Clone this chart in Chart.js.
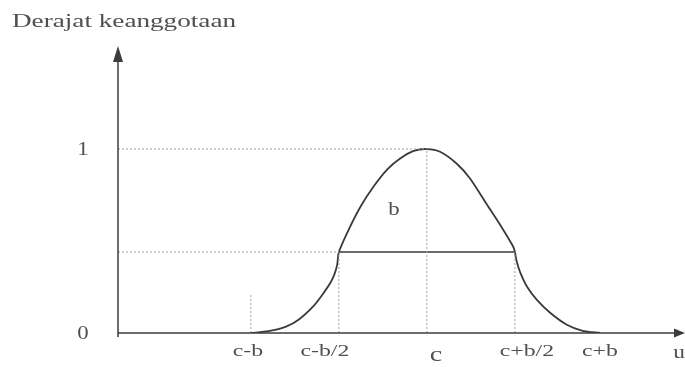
<!DOCTYPE html>
<html>
<head>
<meta charset="utf-8">
<script src="https://cdn.jsdelivr.net/npm/chart.js@4/dist/chart.umd.min.js"></script>
<style>
  html, body { margin: 0; padding: 0; background: #fff; }
  canvas { display: block; }
</style>
</head>
<body>
<canvas id="c" width="685" height="367"></canvas>
<script>
// Pi-shaped membership curve: centre c = 0, half-width b/2 = 1
const curveX = [-2.0, -1.8, -1.6, -1.45, -1.3, -1.2, -1.1, -1.05, -1.02, -1.0, -0.88, -0.75, -0.6, -0.45, -0.3, -0.15, 0, 0.15, 0.34, 0.49, 0.68, 0.83, 0.98, 1.0, 1.02, 1.06, 1.14, 1.25, 1.4, 1.59, 1.77, 1.97];
const curveY = [0, 0.01, 0.035, 0.075, 0.14, 0.2, 0.27, 0.32, 0.37, 0.44, 0.57, 0.69, 0.8, 0.89, 0.95, 0.99, 1, 0.985, 0.92, 0.84, 0.7, 0.59, 0.47, 0.44, 0.39, 0.33, 0.25, 0.18, 0.11, 0.045, 0.012, 0];

// Axis labels
const tickPositions = [-2, -1, 0, 1, 2];
const tickLabels = ['c-b', 'c-b/2', 'c', 'c+b/2', 'c+b'];
const yTickValues = [0, 1];
const yTickLabels = ['0', '1'];
const yAxisTitle = 'Derajat keanggotaan';
const xAxisTitle = 'u';
const widthLabel = 'b';

// Reference levels
const peakValue = 1;
const crossoverValue = 0.44;
const supportMarkHeight = 0.21;
const bandLabelPos = { x: -0.375, y: 0.67 };

const X_MIN = -3.51, X_MAX = 2.91, Y_MIN = 0, Y_MAX = 1.56;

const curveData = curveX.map((x, i) => ({ x: x, y: curveY[i] }));

const guide = (pts) => ({
  data: pts,
  showLine: true,
  borderColor: '#a0a0a0',
  borderWidth: 1,
  borderDash: [2, 2],
  pointRadius: 0,
  fill: false
});

const datasets = [
  guide([{ x: X_MIN, y: peakValue }, { x: 0, y: peakValue }]),
  guide([{ x: X_MIN, y: crossoverValue }, { x: tickPositions[1], y: crossoverValue }]),
  guide([{ x: tickPositions[0], y: 0 }, { x: tickPositions[0], y: supportMarkHeight }]),
  guide([{ x: tickPositions[1], y: 0 }, { x: tickPositions[1], y: crossoverValue }]),
  guide([{ x: tickPositions[2], y: 0 }, { x: tickPositions[2], y: peakValue }]),
  guide([{ x: tickPositions[3], y: 0 }, { x: tickPositions[3], y: crossoverValue }]),
  {
    data: [{ x: tickPositions[1], y: crossoverValue }, { x: tickPositions[3], y: crossoverValue }],
    showLine: true,
    borderColor: '#3a3a3a',
    borderWidth: 1.6,
    pointRadius: 0
  },
  {
    data: curveData,
    showLine: true,
    borderColor: '#3a3a3a',
    borderWidth: 1.8,
    pointRadius: 0,
    tension: 0.25
  }
];

// Text drawn slightly stretched horizontally
function stretchedText(ctx, text, x, y, size, align, sx) {
  ctx.save();
  ctx.font = size + 'px "Liberation Serif", "DejaVu Serif", serif';
  ctx.textBaseline = 'middle';
  ctx.fillStyle = '#505050';
  const w = ctx.measureText(text).width * sx;
  let left = x;
  if (align === 'center') left = x - w / 2;
  else if (align === 'right') left = x - w;
  ctx.translate(left, y);
  ctx.scale(sx, 1);
  ctx.textAlign = 'left';
  ctx.fillText(text, 0, 0);
  ctx.restore();
}

// small horizontal nudges of the tick labels under the axis
const tickLabelShift = [-3, -14, 9, 12, -3];

const axesPlugin = {
  id: 'arrowAxes',
  afterDatasetsDraw(chart) {
    const ctx = chart.ctx;
    const xs = chart.scales.x, ys = chart.scales.y;
    const x0 = xs.getPixelForValue(X_MIN);
    const y0 = ys.getPixelForValue(0);
    const top = chart.chartArea.top;
    const right = chart.chartArea.right;
    ctx.save();
    ctx.strokeStyle = '#3c3c3c';
    ctx.fillStyle = '#3c3c3c';
    ctx.lineWidth = 1.5;
    // vertical axis
    ctx.beginPath();
    ctx.moveTo(x0, y0 + 4);
    ctx.lineTo(x0, top + 10);
    ctx.stroke();
    ctx.beginPath();
    ctx.moveTo(x0, top);
    ctx.lineTo(x0 - 5, top + 16);
    ctx.lineTo(x0 + 5, top + 16);
    ctx.closePath();
    ctx.fill();
    // horizontal axis
    ctx.beginPath();
    ctx.moveTo(x0, y0);
    ctx.lineTo(right - 6, y0);
    ctx.stroke();
    ctx.beginPath();
    ctx.moveTo(right + 2, y0);
    ctx.lineTo(right - 9, y0 - 4.5);
    ctx.lineTo(right - 9, y0 + 4.5);
    ctx.closePath();
    ctx.fill();
    ctx.restore();

    // labels
    stretchedText(ctx, yAxisTitle, 12, 22, 19, 'left', 1.43);
    yTickValues.forEach((v, i) => {
      stretchedText(ctx, yTickLabels[i], 83, ys.getPixelForValue(v) + 1, 19, 'center', 1.2);
    });
    tickPositions.forEach((p, i) => {
      const isC = tickLabels[i] === 'c';
      stretchedText(ctx, tickLabels[i], xs.getPixelForValue(p) + tickLabelShift[i], y0 + (isC ? 23 : 19), isC ? 20 : 17, 'center', 1.4);
    });
    stretchedText(ctx, xAxisTitle, 679, y0 + 20, 18, 'center', 1.3);
    stretchedText(ctx, widthLabel, xs.getPixelForValue(bandLabelPos.x), ys.getPixelForValue(bandLabelPos.y), 19, 'center', 1.2);
  }
};

new Chart(document.getElementById('c'), {
  type: 'scatter',
  data: { datasets: datasets },
  options: {
    responsive: false,
    animation: false,
    devicePixelRatio: 1,
    layout: { padding: { left: 118, right: 2, top: 46, bottom: 34 } },
    scales: {
      x: { type: 'linear', min: X_MIN, max: X_MAX, display: false },
      y: { type: 'linear', min: Y_MIN, max: Y_MAX, display: false }
    },
    plugins: { legend: { display: false }, tooltip: { enabled: false } }
  },
  plugins: [axesPlugin]
});
</script>
</body>
</html>
